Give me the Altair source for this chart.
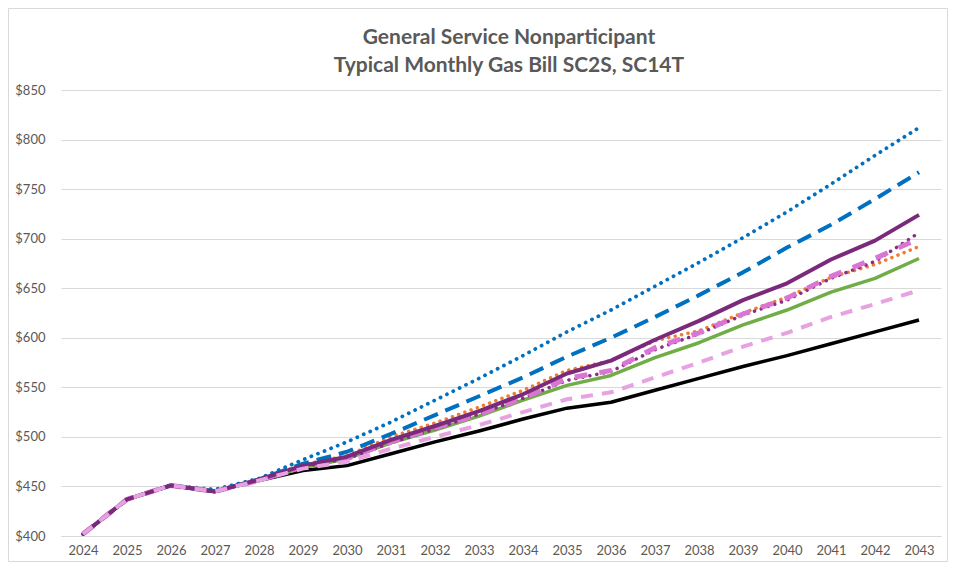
import altair as alt
import pandas as pd

years = [str(y) for y in range(2024, 2044)]
title_lines = ["General Service Nonparticipant", "Typical Monthly Gas Bill SC2S, SC14T"]

blue_dotted  = [402,437,451,447,458,477,495,515,537,559,582,606,628,652,676,701,727,755,784,812]
blue_dashed  = [402,437,451,445,457,473,485,503,522,541,560,581,600,621,643,666,691,714,740,767]
purple_solid = [402,437,451,445,457,471,480,497,511,526,543,564,577,598,617,638,655,679,698,724]
orange_dot   = [402,437,451,445,457,472,481,500,514,530,547,567,577,597,607,625,641,661,674,692]
pink_dashdot = [402,437,451,445,456,470,478,495,509,523,539,559,567,590,605,624,640,662,680,700]
purple_dot   = [402,437,451,445,456,470,478,494,508,523,539,557,566,588,604,623,638,660,677,706]
green_solid  = [402,437,451,445,456,469,478,494,507,521,537,552,562,580,595,613,628,646,660,680]
pink_dashed  = [402,437,451,445,456,468,475,488,500,512,525,538,545,560,575,591,605,621,634,648]
black_solid  = [402,437,451,445,456,466,471,483,495,506,518,529,535,547,559,571,582,594,606,618]

# (values, color, width, dash, cap) in drawing order
series = [
    (black_solid,  "#000000", 3.5, None,        "butt"),
    (green_solid,  "#70AD47", 3.5, None,        "butt"),
    (orange_dot,   "#ED7D31", 3.5, [0.1, 6.5],  "round"),
    (blue_dotted,  "#0070C0", 3.8, [0.1, 7.0],  "round"),
    (blue_dashed,  "#0070C0", 4.0, [15, 8],     "butt"),
    (purple_dot,   "#8B2B8B", 3.5, [0.1, 7],    "round"),
    (pink_dashdot, "#D975D3", 5.0, [13, 12],    "butt"),
    (purple_solid, "#7B2A7B", 4.0, None,        "butt"),
    (pink_dashed,  "#E7A2E1", 4.0, [12, 9],     "butt"),
]

W, H = 880, 446
x_enc = alt.X("year:O", scale=alt.Scale(type="point", padding=0.5),
              axis=alt.Axis(title=None, labelAngle=0, ticks=False, grid=False,
                            domainColor="#D9D9D9", labelColor="#595959",
                            labelFontSize=13, labelFont="Lato", labelPadding=8))
y_enc = alt.Y("value:Q", scale=alt.Scale(domain=[400, 850], nice=False, zero=False),
              axis=alt.Axis(title=None, values=list(range(400, 851, 50)), format="$,.0f",
                            ticks=False, domain=False, gridColor="#D9D9D9",
                            labelColor="#595959", labelFontSize=13, labelFont="Lato",
                            labelPadding=16))

layers = []
for vals, color, width, dash, cap in series:
    df = pd.DataFrame({"year": years, "value": vals})
    kw = dict(color=color, strokeWidth=width, strokeCap=cap, strokeJoin="round")
    if dash is not None:
        kw["strokeDash"] = dash
    layers.append(alt.Chart(df).mark_line(**kw).encode(x=x_enc, y=y_enc))

border = alt.Chart(alt.Data(values=[{}])).mark_rect(
    fill=None, stroke="#D9D9D9", strokeWidth=1
).encode(
    x=alt.value(-52.5), x2=alt.value(W + 6.5),
    y=alt.value(-81.5), y2=alt.value(H + 25.5),
)

title_layers = []
for line, ypos in zip(title_lines, [-52, -24]):
    title_layers.append(
        alt.Chart(pd.DataFrame({"t": [line]})).mark_text(
            font="Lato", fontSize=21, fontWeight="bold", color="#595959",
            align="center", baseline="middle",
        ).encode(x=alt.value(W / 2 + 8), y=alt.value(ypos), text="t:N")
    )

chart = alt.layer(*layers, border, *title_layers).properties(
    width=W, height=H,
    autosize=alt.AutoSizeParams(type="none"),
    padding={"left": 53, "top": 82, "right": 7, "bottom": 26},
).configure(background="white").configure_view(stroke=None)

chart.save("out.html", embed_options={"renderer": "svg", "actions": False})
